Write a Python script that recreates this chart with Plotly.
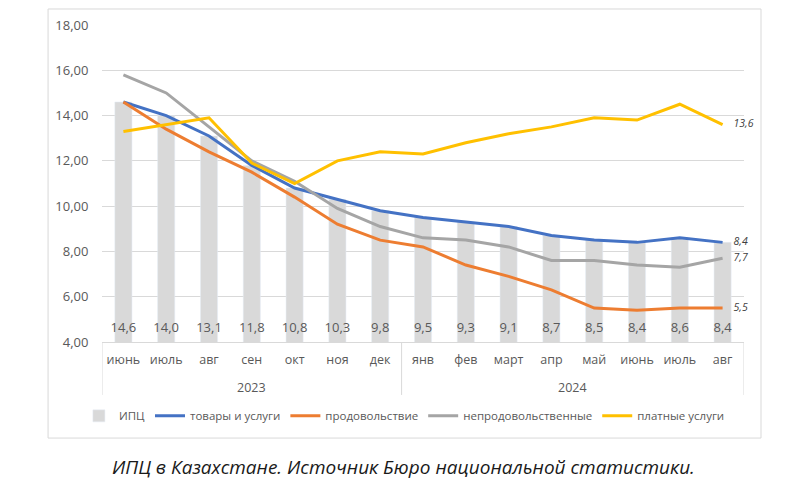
import plotly.graph_objects as go

years = ["2023"] * 7 + ["2024"] * 8
months = ["июнь", "июль", "авг", "сен", "окт", "ноя", "дек",
          "янв", "фев", "март", "апр", "май", "июнь", "июль", "авг"]

cpi = [14.6, 14.0, 13.1, 11.8, 10.8, 10.3, 9.8, 9.5, 9.3, 9.1, 8.7, 8.5, 8.4, 8.6, 8.4]
goods_services = [14.6, 14.0, 13.1, 11.8, 10.8, 10.3, 9.8, 9.5, 9.3, 9.1, 8.7, 8.5, 8.4, 8.6, 8.4]
food = [14.6, 13.4, 12.4, 11.5, 10.4, 9.2, 8.5, 8.2, 7.4, 6.9, 6.3, 5.5, 5.4, 5.5, 5.5]
non_food = [15.8, 15.0, 13.5, 12.0, 11.1, 9.9, 9.1, 8.6, 8.5, 8.2, 7.6, 7.6, 7.4, 7.3, 7.7]
paid_services = [13.3, 13.6, 13.9, 11.9, 11.0, 12.0, 12.4, 12.3, 12.8, 13.2, 13.5, 13.9, 13.8, 14.5, 13.6]

y_ticks = [4, 6, 8, 10, 12, 14, 16, 18]

TXT = "#595959"
GRID = "#D9D9D9"
FONT = "Open Sans"

# unique category keys per (year, month); tick text shows the month only
keys = [f"{y}-{m}" for y, m in zip(years, months)]
n = len(keys)

fig = go.Figure()
fig.add_trace(go.Bar(x=keys, y=cpi, name="ИПЦ", marker_color=GRID, width=0.4))

series = [
    ("товары и услуги", goods_services, "#4472C4"),
    ("продовольствие", food, "#ED7D31"),
    ("непродовольственные", non_food, "#A5A5A5"),
    ("платные услуги", paid_services, "#FFC000"),
]
for name, vals, col in series:
    fig.add_trace(go.Scatter(x=keys, y=vals, name=name, mode="lines",
                             line=dict(color=col, width=3)))

# CPI labels at base of bars
fig.add_trace(go.Scatter(x=keys, y=[4.6] * n, mode="text",
                         text=[f"{v:.1f}".replace(".", ",") for v in cpi],
                         textfont=dict(family=FONT, size=13, color=TXT),
                         showlegend=False, hoverinfo="skip"))

# end labels
for name, vals, col in series:
    fig.add_trace(go.Scatter(x=[keys[-1]], y=[vals[-1]], mode="text",
                             text=["    " + f"{vals[-1]:.1f}".replace(".", ",")],
                             textposition="middle right",
                             textfont=dict(family=FONT, size=10.5, color="#404040", style="italic"),
                             showlegend=False, hoverinfo="skip", cliponaxis=False))

# page body has an 8px default margin: shrink the figure so the plot lands where the reference has it
fig.update_layout(
    width=792, height=484,
    margin=dict(l=94, r=56, t=17, b=150, autoexpand=False),
    paper_bgcolor="white", plot_bgcolor="white",
    separators=", ",
    font=dict(family=FONT, size=13, color=TXT),
    showlegend=True,
    legend=dict(orientation="h", x=-0.036, xanchor="left", y=-0.233, yanchor="middle",
                font=dict(family=FONT, size=11.5, color=TXT), traceorder="normal",
                itemwidth=30, tracegroupgap=0),
    bargap=0.6,
)
fig.update_yaxes(range=[4, 18], tickvals=y_ticks, tickformat=".2f",
                 showgrid=True, gridcolor=GRID, gridwidth=1,
                 zeroline=False, showline=False, automargin=False,
                 ticks="outside", ticklen=10, tickcolor="rgba(0,0,0,0)",
                 tickfont=dict(family=FONT, size=13, color=TXT))
fig.update_xaxes(type="category", range=[-0.5, n - 0.5], tickvals=keys, ticktext=months,
                 showline=True, linecolor=GRID, showgrid=False,
                 ticks="", automargin=False, ticklabelstandoff=6,
                 tickfont=dict(family=FONT, size=12.5, color=TXT))

# year group labels and dividers
groups = []
for i, yv in enumerate(years):
    if not groups or groups[-1][0] != yv:
        groups.append([yv, i, i])
    else:
        groups[-1][2] = i
bounds = sorted({g[1] - 0.5 for g in groups} | {g[2] + 0.5 for g in groups})
for b in bounds:
    fig.add_shape(type="line", xref="x", yref="paper", x0=b, x1=b, y0=0, y1=-0.167,
                  line=dict(color=GRID, width=1))
for yv, i0, i1 in groups:
    fig.add_annotation(text=yv, xref="x", yref="paper", x=(i0 + i1) / 2, y=-0.142,
                       xanchor="center", yanchor="middle", showarrow=False,
                       font=dict(family=FONT, size=12.5, color=TXT))

# outer border
fig.add_shape(type="rect", xref="paper", yref="paper",
              x0=-0.084, x1=1.0265, y0=-0.303, y1=1.0505,
              line=dict(color=GRID, width=1), fillcolor="rgba(0,0,0,0)", layer="below")

fig.add_annotation(text="ИПЦ в Казахстане. Источник Бюро национальной статистики.",
                   xref="paper", yref="paper", x=0.47, y=-0.394, xanchor="center", yanchor="middle",
                   showarrow=False, font=dict(family=FONT, size=19, color="#1a1a1a", style="italic"))

fig.write_html("out.html")
